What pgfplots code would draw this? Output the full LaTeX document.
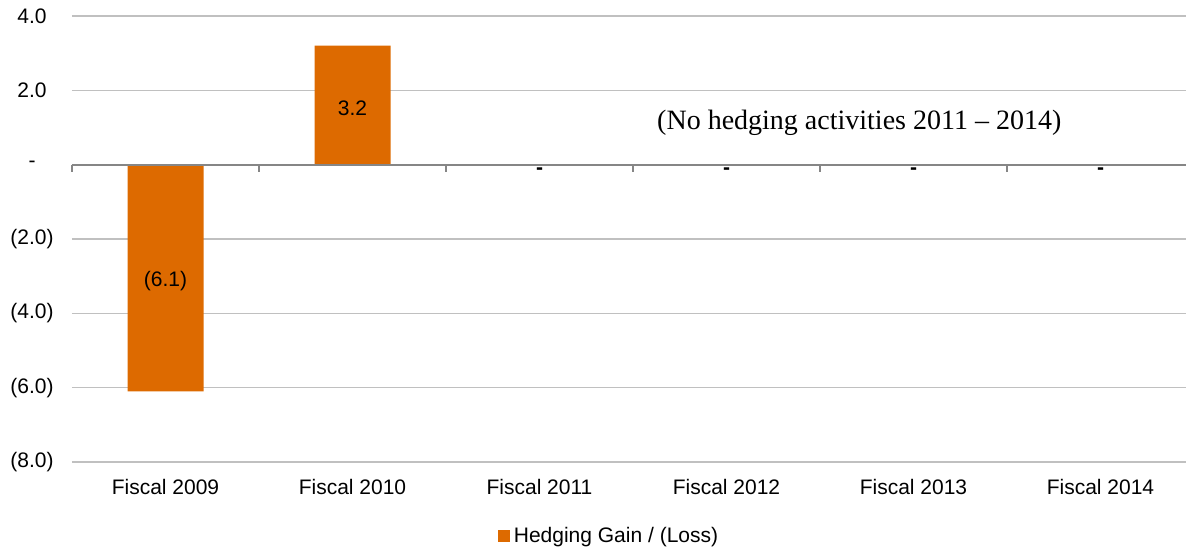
\documentclass[border=0pt]{standalone}
\usepackage{pgfplots}
\pgfplotsset{compat=1.18}
\usepackage{pgfplotstable}
\usepackage{fontspec}
\setmainfont{Liberation Sans}
\newfontfamily\serifann{Liberation Serif}
\definecolor{barorange}{HTML}{DD6A00}
\definecolor{gridgray}{HTML}{C0C0C0}
\definecolor{zerogray}{HTML}{868686}
\pgfplotstableread{
x y label
0 -6.1 (6.1)
1 3.2 3.2
2 0 -
3 0 -
4 0 -
5 0 -
}\datatable
\begin{document}
\begin{tikzpicture}
\path[use as bounding box] (0,0) rectangle (593pt,276pt);
\begin{axis}[
  at={(36pt,45pt)}, anchor=south west,
  scale only axis, width=561pt, height=223pt,
  xmin=-0.5, xmax=5.5, ymin=-8, ymax=4,
  xtick={0,1,2,3,4,5},
  xticklabels={Fiscal 2009,Fiscal 2010,Fiscal 2011,Fiscal 2012,Fiscal 2013,Fiscal 2014},
  ytick={-8,-6,-4,-2,0,2,4},
  yticklabels={(8.0),(6.0),(4.0),(2.0),-,2.0,4.0},
  /pgf/number format/assume math mode=true,
  ymajorgrids, grid style={gridgray, line width=0.75pt},
  axis line style={draw=none},
  major tick length=0pt,
  tick label style={font=\fontsize{10.5}{12}\selectfont, text=black},
  yticklabel style={anchor=center, xshift=-20pt},
  xticklabel style={yshift=-5pt},
  legend style={at={(0.4795,-0.166)}, anchor=center, draw=none, fill=none,
    font=\fontsize{10.5}{12}\selectfont, inner sep=0pt},
  legend image code/.code={\fill[barorange] (0pt,-3pt) rectangle (6pt,3pt);},
  clip=false,
]
\addplot[ybar, bar width=38pt, fill=barorange, draw=none] table[x=x,y=y]{\datatable};
\addlegendentry{Hedging Gain / (Loss)}
\addplot[forget plot, draw=none, mark=none, nodes near coords, point meta=explicit symbolic,
  restrict x to domain=-0.5:1.5,
  nodes near coords style={anchor=center, yshift=-1.5pt, text=black, font=\fontsize{10.5}{12}\selectfont}]
  table[x=x, y expr=\thisrow{y}/2, meta=label]{\datatable};
\draw[zerogray, line width=1pt] (axis cs:-0.5,0) -- (axis cs:5.5,0);
\pgfplotsinvokeforeach{-0.5,0.5,1.5,2.5,3.5,4.5}{
  \draw[zerogray, line width=0.7pt] (axis cs:#1,0) -- ++(0pt,-3.5pt);
}
\addplot[forget plot, draw=none, mark=none, nodes near coords, point meta=explicit symbolic,
  restrict x to domain=1.5:5.5,
  nodes near coords style={anchor=center, yshift=-3.3pt, text=black, font=\fontsize{10.5}{12}\selectfont\bfseries}]
  table[x=x, y expr=\thisrow{y}/2, meta=label]{\datatable};
\node[font=\serifann\fontsize{14}{16}\selectfont, text=black] at (axis cs:3.71,1.13) {(No hedging activities 2011 \textendash\ 2014)};
\end{axis}
\end{tikzpicture}
\end{document}
